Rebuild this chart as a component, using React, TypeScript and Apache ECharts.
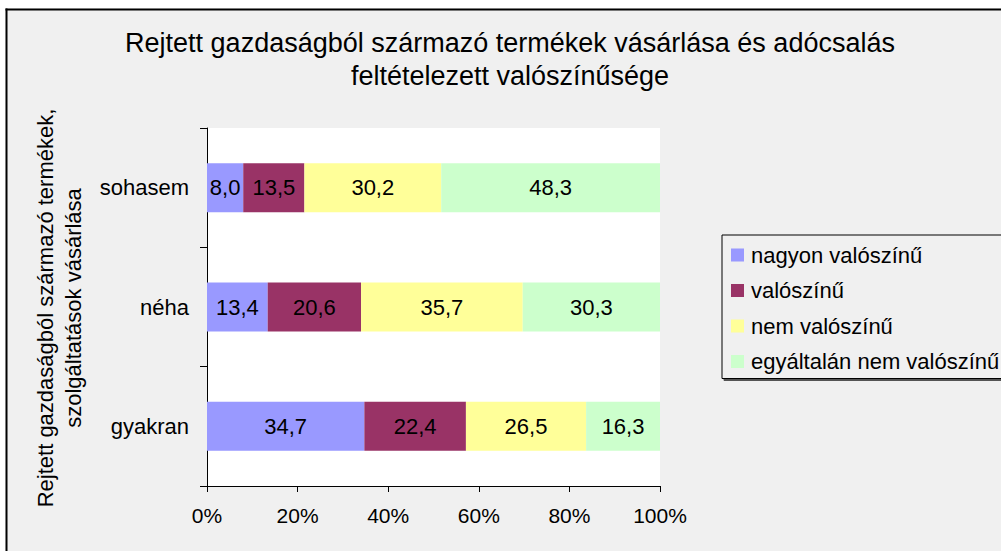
import React, { useEffect, useRef } from "react";
import * as echarts from "echarts";

// Categories listed bottom-to-top as ECharts draws a category y-axis
const categories = ["gyakran", "néha", "sohasem"];
const seriesNames = ["nagyon valószínű", "valószínű", "nem valószínű", "egyáltalán nem valószínű"];
const nagyonValoszinu = [34.7, 13.4, 8.0];
const valoszinu = [22.4, 20.6, 13.5];
const nemValoszinu = [26.5, 35.7, 30.2];
const egyaltalanNem = [16.3, 30.3, 48.3];
const seriesColors = ["#9999FF", "#993366", "#FFFF99", "#CCFFCC"];
const xMin = 0;
const xMax = 100;
const xInterval = 20;

const titleText = "Rejtett gazdaságból származó termékek vásárlása és adócsalás\nfeltételezett valószínűsége";
const yAxisTitle = "Rejtett gazdaságból származó termékek,\nszolgáltatások vásárlása";

const FONT = '"Liberation Sans", Arial, sans-serif';

export default function App() {
  const ref = useRef<HTMLDivElement>(null);

  useEffect(() => {
    document.body.style.margin = "0";
    if (!ref.current) return;
    const chart = echarts.init(ref.current, null, { renderer: "svg" });

    const raw = [nagyonValoszinu, valoszinu, nemValoszinu, egyaltalanNem];
    const totals = categories.map((_, i) => raw.reduce((s, arr) => s + arr[i], 0));

    const series = raw.map((arr, si) => ({
      name: seriesNames[si],
      type: "bar",
      stack: "total",
      barWidth: 49,
      itemStyle: { color: seriesColors[si] },
      label: {
        show: true,
        position: "inside",
        color: "#000",
        fontSize: 22,
        fontFamily: FONT,
        formatter: (p: any) => raw[si][p.dataIndex].toFixed(1).replace(".", ","),
      },
      data: arr.map((v, i) => (v / totals[i]) * 100),
    }));

    chart.setOption({
      animation: false,
      backgroundColor: "#f0f0f0",
      textStyle: { fontFamily: FONT, color: "#000" },
      grid: {
        left: 207,
        top: 128,
        width: 453,
        height: 358,
        show: true,
        backgroundColor: "#ffffff",
        borderWidth: 0,
      },
      xAxis: {
        type: "value",
        min: xMin,
        max: xMax,
        interval: xInterval,
        axisLine: { show: true, lineStyle: { color: "#000", width: 1 } },
        axisTick: { show: true, length: 6, lineStyle: { color: "#000" } },
        splitLine: { show: false },
        axisLabel: {
          formatter: "{value}%",
          color: "#000",
          fontSize: 21,
          fontFamily: FONT,
          margin: 19,
        },
      },
      yAxis: {
        type: "category",
        data: categories,
        axisLine: { show: true, lineStyle: { color: "#000", width: 1 } },
        axisTick: { show: true, length: 7, lineStyle: { color: "#000" } },
        splitLine: { show: false },
        axisLabel: { color: "#000", fontSize: 22, fontFamily: FONT, margin: 18 },
      },
      legend: {
        orient: "vertical",
        left: 722,
        top: 235,
        data: seriesNames,
        icon: "rect",
        itemWidth: 13,
        itemHeight: 13,
        itemGap: 13.5,
        padding: [9, 10, 6, 9],
        backgroundColor: "#f0f0f0",
        borderColor: "#000",
        borderWidth: 1,
        shadowColor: "rgba(0,0,0,0.65)",
        shadowBlur: 0,
        shadowOffsetX: 2,
        shadowOffsetY: 2,
        textStyle: { color: "#000", fontSize: 22, fontFamily: FONT, lineHeight: 22, padding: [0, 0, 0, 2] },
      },
      graphic: [
        { type: "rect", shape: { x: 0, y: 0, width: 1001, height: 8.5 }, style: { fill: "#ffffff" }, silent: true },
        { type: "rect", shape: { x: 0, y: 0, width: 5.5, height: 551 }, style: { fill: "#ffffff" }, silent: true },
        { type: "line", shape: { x1: 5.5, y1: 9.5, x2: 1001, y2: 9.5 }, style: { stroke: "#000", lineWidth: 2 }, silent: true },
        { type: "line", shape: { x1: 6.5, y1: 8.5, x2: 6.5, y2: 551 }, style: { stroke: "#000", lineWidth: 2 }, silent: true },
        {
          type: "text",
          x: 510,
          y: 26,
          silent: true,
          style: {
            text: titleText,
            align: "center",
            verticalAlign: "top",
            textAlign: "center",
            textVerticalAlign: "top",
            fontSize: 27,
            fontFamily: FONT,
            lineHeight: 33,
            fill: "#000",
          },
        },
        {
          type: "text",
          x: 59,
          y: 308,
          rotation: Math.PI / 2,
          silent: true,
          style: {
            text: yAxisTitle,
            align: "center",
            verticalAlign: "middle",
            textAlign: "center",
            textVerticalAlign: "middle",
            fontSize: 22,
            fontFamily: FONT,
            lineHeight: 28,
            fill: "#000",
          },
        },
      ],
      series,
    });

    return () => {
      chart.dispose();
    };
  }, []);

  return <div ref={ref} style={{ width: 1001, height: 551 }} />;
}
